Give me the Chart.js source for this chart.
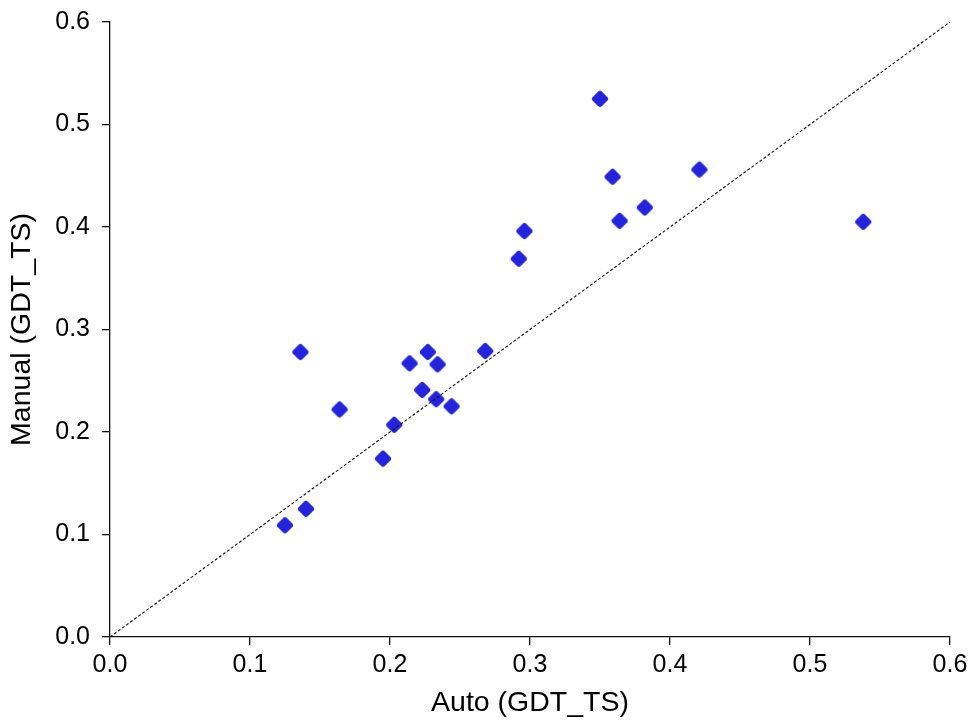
<!DOCTYPE html>
<html>
<head>
<meta charset="utf-8">
<title>Auto vs Manual GDT_TS</title>
<script src="https://cdn.jsdelivr.net/npm/chart.js@4.4.1/dist/chart.umd.min.js"></script>
<style>
  html, body { margin: 0; padding: 0; background: #fff; }
  #wrap { width: 970px; height: 720px; }
</style>
</head>
<body>
<div id="wrap"><canvas id="gdtChart" width="970" height="720"></canvas></div>
<script>
// GDT_TS scores per target: automatic model vs manual model
const autoScores = [
  0.125, 0.140, 0.136, 0.164, 0.195, 0.203, 0.214, 0.223, 0.227, 0.234,
  0.233, 0.244, 0.268, 0.292, 0.296, 0.350, 0.359, 0.364, 0.382, 0.421, 0.538
];
const manualScores = [
  0.109, 0.125, 0.278, 0.222, 0.174, 0.207, 0.267, 0.241, 0.278, 0.266,
  0.232, 0.225, 0.279, 0.369, 0.396, 0.525, 0.449, 0.406, 0.419, 0.456, 0.405
];
// y = x reference line end points
const identityLine = [0, 0.6];
const axisTicks = [0.0, 0.1, 0.2, 0.3, 0.4, 0.5, 0.6];

const pointColor = '#2424dc';
const fontFamily = '"Liberation Sans", Arial, Helvetica, sans-serif';

// rounded diamond marker
function makeMarker(size) {
  const c = document.createElement('canvas');
  c.width = size; c.height = size;
  const ctx = c.getContext('2d');
  const m = size / 2, r = 5.0;
  ctx.beginPath();
  ctx.moveTo(m, m - r);
  ctx.lineTo(m + r, m);
  ctx.lineTo(m, m + r);
  ctx.lineTo(m - r, m);
  ctx.closePath();
  ctx.fillStyle = pointColor;
  ctx.strokeStyle = pointColor;
  ctx.lineWidth = 6;
  ctx.lineJoin = 'round';
  ctx.fill();
  ctx.stroke();
  return c;
}

const scatterData = autoScores.map((x, i) => ({ x, y: manualScores[i] }));
const lineData = identityLine.map(v => ({ x: v, y: v }));

function axis(title, isY) {
  return {
    type: 'linear',
    min: axisTicks[0],
    max: axisTicks[axisTicks.length - 1],
    afterBuildTicks: (scale) => { scale.ticks = axisTicks.map(v => ({ value: v })); },
    afterFit: (scale) => {
      // fixed axis boxes so the plot area doesn't shift with label sizes
      if (isY) {
        scale.width = 110;
        scale.paddingTop = 0;
        scale.paddingBottom = 0;
      } else {
        scale.height = 83;
        scale.paddingLeft = 0;
        scale.paddingRight = 0;
      }
    },
    border: { display: true, color: '#111', width: 1.3 },
    grid: { drawOnChartArea: false, drawTicks: true, tickLength: 8, color: '#111', lineWidth: 1.3 },
    ticks: {
      color: '#000',
      padding: isY ? 12 : 5,
      font: { family: fontFamily, size: 25 },
      callback: (v) => Number(v).toFixed(1),
    },
    title: {
      display: true,
      text: title,
      color: '#000',
      font: { family: fontFamily, size: 28.5 },
      padding: isY ? { top: 5, bottom: 0 } : { top: 0, bottom: 0 },
    },
  };
}

new Chart(document.getElementById('gdtChart'), {
  type: 'scatter',
  data: {
    datasets: [
      {
        label: 'y = x',
        type: 'line',
        data: lineData,
        borderColor: '#111',
        borderWidth: 1.1,
        borderDash: [3, 2],
        pointRadius: 0,
        fill: false,
        order: 0,
      },
      {
        label: 'targets',
        data: scatterData,
        pointStyle: makeMarker(22),
        pointRadius: 8,
        order: 1,
      },
    ],
  },
  options: {
    responsive: false,
    animation: false,
    layout: { padding: { top: 22, right: 20, left: 0, bottom: 0 } },
    plugins: { legend: { display: false }, tooltip: { enabled: false } },
    scales: {
      x: axis('Auto (GDT_TS)', false),
      y: axis('Manual (GDT_TS)', true),
    },
  },
});
</script>
</body>
</html>
